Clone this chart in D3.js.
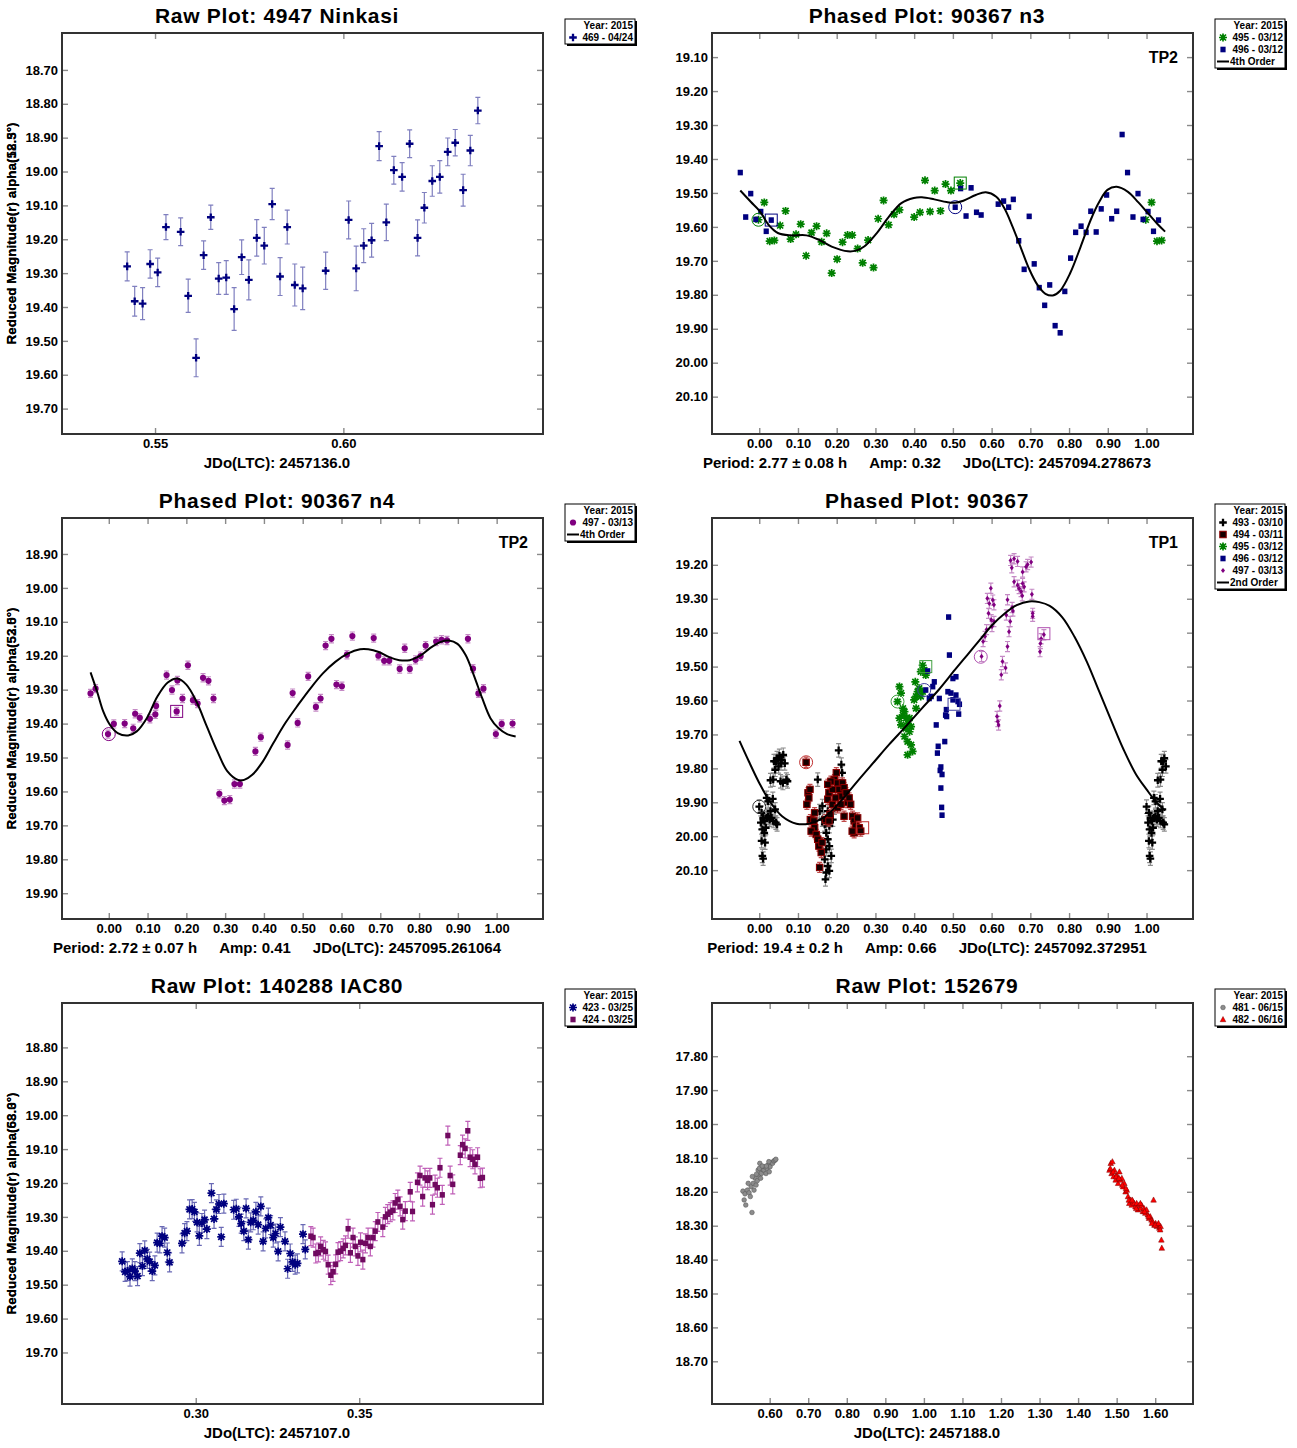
<!DOCTYPE html>
<html>
<head>
<meta charset="utf-8">
<script src="https://cdn.jsdelivr.net/npm/d3@7"></script>
<style>
  body { margin: 0; background: #fff; }
  svg text { font-family: "Liberation Sans", Arial, sans-serif; font-weight: bold; }
</style>
</head>
<body>
<svg id="chart" width="1297" height="1448"></svg>
<script>
// ---------------------------------------------------------------
// Lightcurve data: [time or phase, reduced magnitude, (error)]
// ---------------------------------------------------------------

// 4947 Ninkasi, session 469 (2015-04-24), JD - 2457136.0
const ninkasi469 = [
  [0.5426,19.280,0.043],[0.5446,19.383,0.044],[0.5467,19.390,0.047],[0.5487,19.273,0.042],
  [0.5507,19.298,0.042],[0.5529,19.164,0.037],[0.5568,19.178,0.041],[0.5588,19.367,0.049],
  [0.5609,19.550,0.056],[0.5629,19.247,0.042],[0.5648,19.135,0.036],[0.5669,19.316,0.047],
  [0.5689,19.313,0.050],[0.5710,19.406,0.063],[0.5730,19.253,0.051],[0.5749,19.320,0.059],
  [0.5770,19.196,0.054],[0.5790,19.219,0.054],[0.5811,19.096,0.046],[0.5832,19.310,0.056],
  [0.5851,19.164,0.050],[0.5871,19.335,0.062],[0.5892,19.345,0.063],[0.5953,19.293,0.055],
  [0.6014,19.143,0.056],[0.6034,19.286,0.066],[0.6054,19.219,0.050],[0.6075,19.203,0.050],
  [0.6095,18.925,0.043],[0.6114,19.150,0.054],[0.6134,18.996,0.041],[0.6156,19.016,0.042],
  [0.6176,18.918,0.041],[0.6197,19.196,0.053],[0.6215,19.107,0.045],[0.6236,19.028,0.045],
  [0.6256,19.016,0.048],[0.6277,18.942,0.041],[0.6297,18.915,0.039],[0.6318,19.055,0.047],
  [0.6337,18.938,0.045],[0.6357,18.820,0.039]
];
const ninkasiYTicks = [18.70,18.80,18.90,19.00,19.10,19.20,19.30,19.40,19.50,19.60,19.70];
const ninkasiXTicks = [0.55,0.60];

// 90367 n3: sessions 495 and 496 (2015-03-12), phase vs magnitude
const n3s495 = [
  [0.998,19.579],[0.013,19.528],[0.027,19.642],[0.039,19.640],[0.054,19.596],[0.068,19.553],
  [0.081,19.636],[0.095,19.622],[0.107,19.592],[0.121,19.685],[0.135,19.617],[0.148,19.598],
  [0.161,19.644],[0.174,19.619],[0.187,19.736],[0.201,19.695],[0.215,19.645],[0.228,19.624],
  [0.240,19.624],[0.254,19.664],[0.267,19.706],[0.281,19.639],[0.295,19.720],[0.307,19.576],
  [0.321,19.522],[0.334,19.594],[0.348,19.563],[0.362,19.550],[0.400,19.571],[0.415,19.557],
  [0.428,19.463],[0.441,19.555],[0.453,19.493],[0.468,19.553],[0.481,19.474],[0.495,19.493],
  [0.519,19.471]
];
const n3s496 = [
  [0.951,19.440],[0.965,19.571],[0.978,19.502],[0.991,19.578],[0.004,19.555],[0.018,19.613],
  [0.031,19.580],[0.506,19.542],[0.520,19.487],[0.534,19.568],[0.547,19.485],[0.561,19.557],
  [0.573,19.565],[0.617,19.533],[0.631,19.524],[0.644,19.542],[0.656,19.519],[0.670,19.641],
  [0.684,19.725],[0.697,19.569],[0.710,19.709],[0.723,19.779],[0.737,19.831],[0.750,19.771],
  [0.764,19.891],[0.777,19.912],[0.789,19.790],[0.804,19.692],[0.817,19.616],[0.831,19.598],
  [0.844,19.616],[0.856,19.554],[0.870,19.615],[0.883,19.547],[0.897,19.506],[0.910,19.576],
  [0.923,19.554],[0.937,19.328]
];
const n3Fit = [
  [-0.049,19.493],[-0.022,19.526],[0.000,19.552],[0.027,19.598],[0.048,19.618],[0.080,19.625],
  [0.122,19.625],[0.154,19.638],[0.187,19.658],[0.229,19.672],[0.250,19.670],[0.271,19.658],
  [0.303,19.619],[0.335,19.570],[0.367,19.530],[0.399,19.515],[0.420,19.513],[0.452,19.519],
  [0.484,19.527],[0.505,19.529],[0.527,19.523],[0.559,19.506],[0.585,19.498],[0.612,19.511],
  [0.633,19.545],[0.654,19.599],[0.676,19.663],[0.697,19.724],[0.718,19.770],[0.739,19.797],
  [0.758,19.802],[0.777,19.788],[0.803,19.736],[0.830,19.658],[0.856,19.579],[0.878,19.526],
  [0.899,19.491],[0.923,19.482],[0.952,19.497],[0.979,19.528],[1.000,19.555],[1.027,19.590],
  [1.048,19.614]
];
// first (circle) and last (square) observations of each session
const n3Firsts = [[-0.002,19.579,"#008000"],[0.506,19.542,"#00007f"]];
const n3Lasts  = [[0.519,19.471,"#008000"],[0.031,19.580,"#00007f"]];
const n3YTicks = [19.10,19.20,19.30,19.40,19.50,19.60,19.70,19.80,19.90,20.00,20.10];

// 90367 n4: session 497 (2015-03-13)
const n4s497 = [
  [0.998,19.431],[0.013,19.401],[0.041,19.400],[0.063,19.414],[0.068,19.371],[0.080,19.383],
  [0.106,19.386],[0.120,19.373],[0.122,19.348],[0.149,19.257],[0.163,19.301],[0.175,19.364],
  [0.177,19.273],[0.190,19.326],[0.204,19.228],[0.217,19.331],[0.229,19.341],[0.243,19.265],
  [0.257,19.274],[0.270,19.326],[0.285,19.607],[0.298,19.627],[0.312,19.624],[0.324,19.578],
  [0.338,19.578],[0.378,19.482],[0.392,19.440],[0.461,19.463],[0.474,19.310],[0.487,19.398],
  [0.514,19.261],[0.534,19.351],[0.546,19.326],[0.559,19.170],[0.574,19.150],[0.587,19.285],
  [0.601,19.290],[0.614,19.197],[0.628,19.142],[0.683,19.148],[0.695,19.200],[0.710,19.215],
  [0.723,19.215],[0.750,19.239],[0.763,19.178],[0.776,19.239],[0.791,19.212],[0.804,19.201],
  [0.817,19.170],[0.844,19.158],[0.858,19.153],[0.872,19.155],[0.926,19.150],[0.939,19.238],
  [0.953,19.311],[0.966,19.297]
];
const n4Fit = [
  [-0.047,19.249],[-0.030,19.306],[-0.014,19.365],[0.002,19.402],[0.023,19.428],[0.050,19.435],
  [0.072,19.423],[0.098,19.384],[0.125,19.321],[0.152,19.279],[0.176,19.267],[0.200,19.285],
  [0.226,19.335],[0.253,19.409],[0.280,19.482],[0.306,19.541],[0.333,19.566],[0.349,19.566],
  [0.370,19.551],[0.397,19.512],[0.424,19.458],[0.456,19.397],[0.488,19.345],[0.520,19.296],
  [0.552,19.252],[0.584,19.218],[0.616,19.194],[0.648,19.181],[0.669,19.181],[0.696,19.189],
  [0.723,19.204],[0.749,19.213],[0.776,19.213],[0.803,19.200],[0.829,19.177],[0.856,19.159],
  [0.877,19.155],[0.899,19.165],[0.920,19.198],[0.941,19.257],[0.963,19.326],[0.984,19.384],
  [1.005,19.414],[1.027,19.431],[1.049,19.438]
];
const n4Firsts = [[0.000,19.431,"#800080"]];
const n4Lasts  = [[0.175,19.364,"#800080"]];
const n4YTicks = [18.90,19.00,19.10,19.20,19.30,19.40,19.50,19.60,19.70,19.80,19.90];

// 90367 combined, sessions 493-497
const tp493 = [
  [0.000,19.913],[0.006,19.931],[0.010,19.946],[0.004,19.960],[0.014,19.955],[0.019,19.946],
  [0.023,19.941],[0.027,19.951],[0.032,19.946],[0.036,19.955],[0.043,19.960],[0.046,19.965],
  [0.008,19.980],[0.013,19.990],[0.006,20.014],[0.015,20.019],[0.008,20.058],[0.010,20.066],
  [0.017,19.975],[0.023,19.897],[0.035,19.890],[0.019,19.887],[0.041,19.921],[0.029,19.926],
  [0.036,19.833],[0.041,19.804],[0.043,19.779],[0.046,19.770],[0.052,19.763],[0.058,19.775],
  [0.062,19.760],[0.066,19.785],[0.070,19.833],[0.073,19.838],[0.061,19.843],[0.055,19.838],
  [0.029,19.835],[0.050,19.794],[0.038,19.779],[0.056,19.785],
  [0.151,19.833],[0.205,19.747],[0.212,19.789],[0.214,19.813],[0.156,19.926],[0.163,19.951],
  [0.169,19.965],[0.173,19.990],[0.177,20.009],[0.181,20.029],[0.173,20.039],[0.169,20.068],
  [0.177,20.088],[0.173,20.107],[0.171,20.127],[0.181,20.102],[0.186,20.058],[0.163,19.911],
  [0.177,19.926],[0.194,19.916],[0.190,19.951],[0.181,19.970],[0.156,20.009]
];
const tp494 = [
  [0.121,19.782],[0.126,19.872],[0.128,19.887],[0.123,19.906],[0.131,19.862],[0.132,19.951],
  [0.141,19.955],[0.143,19.975],[0.134,19.985],[0.147,19.995],[0.151,20.009],[0.154,20.029],
  [0.160,20.048],[0.156,20.092],[0.162,20.019],[0.143,19.931],[0.171,19.951],[0.180,19.955],
  [0.183,19.936],[0.177,19.891],[0.180,19.872],[0.189,19.862],[0.194,19.833],[0.199,19.813],
  [0.202,19.843],[0.206,19.862],[0.211,19.882],[0.215,19.843],[0.219,19.857],[0.224,19.872],
  [0.228,19.901],[0.232,19.887],[0.236,19.906],[0.241,19.941],[0.245,19.955],[0.249,19.970],
  [0.245,19.990],[0.254,19.946],[0.258,19.975],[0.262,19.985],[0.240,19.985],[0.219,19.941],
  [0.189,19.906],[0.197,19.887],[0.202,19.916],[0.211,19.906],[0.185,19.838],[0.177,19.847]
];
const tp495 = [
  [0.357,19.603],[0.362,19.559],[0.366,19.578],[0.371,19.623],[0.375,19.633],[0.362,19.652],
  [0.366,19.672],[0.371,19.643],[0.379,19.652],[0.383,19.667],[0.388,19.652],[0.392,19.677],
  [0.379,19.682],[0.375,19.706],[0.383,19.721],[0.392,19.731],[0.396,19.750],[0.383,19.760],
  [0.388,19.692],[0.400,19.598],[0.405,19.588],[0.409,19.574],[0.413,19.564],[0.403,19.545],
  [0.405,19.623],[0.417,19.515],[0.422,19.496],[0.426,19.510],[0.430,19.525],[0.417,19.588],
  [0.422,19.574]
];
const tp496 = [
  [0.489,19.354],[0.491,19.466],[0.435,19.513],[0.452,19.545],[0.448,19.559],[0.430,19.569],
  [0.444,19.588],[0.439,19.594],[0.465,19.594],[0.487,19.574],[0.495,19.578],[0.500,19.598],
  [0.508,19.584],[0.513,19.603],[0.517,19.611],[0.508,19.530],[0.500,19.535],[0.483,19.627],
  [0.484,19.647],[0.481,19.643],[0.515,19.640],[0.457,19.672],[0.479,19.721],[0.462,19.735],
  [0.460,19.755],[0.469,19.796],[0.472,19.818],[0.467,19.806],[0.469,19.858],[0.471,19.915],
  [0.472,19.938]
];
const tp497 = [
  [0.649,19.187],[0.658,19.182],[0.667,19.190],[0.652,19.209],[0.680,19.221],[0.689,19.206],
  [0.693,19.199],[0.702,19.192],[0.658,19.250],[0.667,19.260],[0.671,19.270],[0.680,19.255],
  [0.684,19.265],[0.676,19.279],[0.679,19.291],[0.704,19.287],[0.598,19.269],[0.589,19.299],
  [0.594,19.314],[0.603,19.304],[0.606,19.318],[0.641,19.303],[0.653,19.326],[0.655,19.336],
  [0.592,19.343],[0.599,19.362],[0.606,19.367],[0.601,19.382],[0.587,19.391],[0.638,19.348],
  [0.648,19.367],[0.645,19.397],[0.706,19.343],[0.706,19.352],[0.583,19.411],[0.578,19.426],
  [0.574,19.470],[0.641,19.441],[0.628,19.485],[0.636,19.504],[0.625,19.524],[0.735,19.406],
  [0.728,19.418],[0.726,19.432],[0.725,19.456],[0.621,19.616],[0.614,19.647],[0.616,19.662],
  [0.618,19.672]
];
const tpFit = [
  [-0.051,19.719],[-0.027,19.779],[0.000,19.843],[0.027,19.897],[0.059,19.941],[0.096,19.963],
  [0.128,19.963],[0.165,19.946],[0.197,19.914],[0.229,19.872],[0.261,19.828],[0.298,19.779],
  [0.335,19.730],[0.378,19.677],[0.420,19.623],[0.463,19.569],[0.505,19.510],[0.537,19.466],
  [0.569,19.422],[0.601,19.378],[0.633,19.344],[0.665,19.319],[0.697,19.308],[0.723,19.310],
  [0.750,19.321],[0.782,19.354],[0.814,19.412],[0.846,19.486],[0.878,19.574],[0.910,19.662],
  [0.941,19.745],[0.973,19.818],[1.000,19.862],[1.027,19.902],[1.048,19.924]
];
const tpFirsts = [[0.000,19.913,"#303030"],[0.121,19.782,"#c03030"],[0.357,19.603,"#40a040"],
                  [0.426,19.569,"#4040a0"],[0.572,19.471,"#b050b0"]];
const tpLasts  = [[0.267,19.975,"#c03030"],[0.430,19.500,"#40a040"],[0.503,19.611,"#4040a0"],
                  [0.735,19.403,"#b050b0"]];
const tpYTicks = [19.20,19.30,19.40,19.50,19.60,19.70,19.80,19.90,20.00,20.10];

const phaseTicks = [0.00,0.10,0.20,0.30,0.40,0.50,0.60,0.70,0.80,0.90,1.00];

// 140288 IAC80, sessions 423 and 424 (2015-03-25), JD - 2457107.0
const iac423 = [
  [0.2775,19.431],[0.2784,19.462],[0.2791,19.460],[0.2799,19.476],[0.2806,19.452],[0.2814,19.460],
  [0.2822,19.475],[0.2829,19.407],[0.2837,19.445],[0.2844,19.399],[0.2852,19.424],[0.2859,19.432],
  [0.2867,19.460],[0.2875,19.443],[0.2882,19.376],[0.2890,19.378],[0.2897,19.357],[0.2905,19.361],
  [0.2913,19.405],[0.2920,19.434],[0.2958,19.378],[0.2966,19.348],[0.2973,19.342],[0.2981,19.278],
  [0.2989,19.277],[0.2996,19.285],[0.3004,19.316],[0.3011,19.356],[0.3019,19.318],[0.3027,19.308],
  [0.3034,19.336],[0.3048,19.230],[0.3056,19.306],[0.3063,19.278],[0.3071,19.262],[0.3078,19.359],
  [0.3086,19.261],[0.3116,19.279],[0.3124,19.276],[0.3132,19.300],[0.3139,19.320],[0.3147,19.342],
  [0.3154,19.275],[0.3161,19.367],[0.3168,19.316],[0.3176,19.310],[0.3184,19.285],[0.3191,19.323],
  [0.3199,19.269],[0.3206,19.372],[0.3214,19.334],[0.3222,19.302],[0.3229,19.324],[0.3237,19.361],
  [0.3244,19.349],[0.3252,19.402],[0.3259,19.330],[0.3273,19.372],[0.3281,19.453],[0.3289,19.408],
  [0.3296,19.433],[0.3304,19.441],[0.3311,19.437],[0.3328,19.351],[0.3335,19.396]
];
const iac424 = [
  [0.3352,19.357],[0.3359,19.361],[0.3367,19.408],[0.3375,19.405],[0.3382,19.387],[0.3390,19.397],
  [0.3397,19.402],[0.3405,19.441],[0.3413,19.472],[0.3420,19.462],[0.3428,19.440],[0.3435,19.404],
  [0.3443,19.401],[0.3451,19.393],[0.3458,19.384],[0.3466,19.335],[0.3473,19.406],[0.3481,19.361],
  [0.3488,19.387],[0.3496,19.415],[0.3504,19.375],[0.3511,19.426],[0.3519,19.378],[0.3527,19.361],
  [0.3534,19.387],[0.3542,19.361],[0.3549,19.342],[0.3557,19.315],[0.3572,19.330],[0.3580,19.300],
  [0.3587,19.292],[0.3595,19.286],[0.3603,19.281],[0.3610,19.259],[0.3618,19.249],[0.3625,19.269],
  [0.3633,19.308],[0.3641,19.283],[0.3656,19.226],[0.3663,19.284],[0.3678,19.198],[0.3686,19.178],
  [0.3694,19.240],[0.3701,19.185],[0.3709,19.192],[0.3716,19.185],[0.3724,19.264],[0.3732,19.205],
  [0.3739,19.214],[0.3747,19.155],[0.3754,19.235],[0.3771,19.060],[0.3778,19.178],[0.3786,19.204],
  [0.3809,19.118],[0.3816,19.087],[0.3824,19.098],[0.3832,19.046],[0.3839,19.124],[0.3847,19.130],
  [0.3854,19.145],[0.3862,19.124],[0.3870,19.186],[0.3877,19.184]
];
const iacErr = 0.028;
const iacYTicks = [18.80,18.90,19.00,19.10,19.20,19.30,19.40,19.50,19.60,19.70];
const iacXTicks = [0.30,0.35];

// 152679, sessions 481 (2015-06-15) and 482 (2015-06-16), JD - 2457188.0
const s481 = [
  [0.5306,18.198],[0.5338,18.224],[0.5380,18.239],[0.5359,18.206],[0.5423,18.195],[0.5466,18.203],
  [0.5498,18.214],[0.5541,18.261],[0.5519,18.185],[0.5573,18.175],[0.5594,18.195],[0.5626,18.160],
  [0.5647,18.180],[0.5679,18.167],[0.5701,18.136],[0.5722,18.151],[0.5744,18.116],[0.5765,18.160],
  [0.5786,18.146],[0.5818,18.134],[0.5850,18.136],[0.5872,18.126],[0.5904,18.146],[0.5936,18.131],
  [0.5957,18.121],[0.5989,18.141],[0.6011,18.126],[0.6043,18.114],[0.6075,18.116],[0.6107,18.109],
  [0.6139,18.107],[0.6160,18.104],[0.5444,18.175],[0.5551,18.155],[0.5658,18.148],[0.5733,18.131],
  [0.5808,18.124],[0.5915,18.124],[0.5979,18.111]
];
const s482 = [
  [1.4814,18.136],[1.4846,18.116],[1.4868,18.146],[1.4889,18.111],[1.4921,18.155],[1.4942,18.136],
  [1.4974,18.165],[1.5006,18.151],[1.5038,18.175],[1.5071,18.141],[1.5103,18.165],[1.5135,18.160],
  [1.5167,18.185],[1.5199,18.175],[1.5231,18.200],[1.5263,18.195],[1.5295,18.214],[1.5327,18.234],
  [1.5359,18.224],[1.5391,18.239],[1.5423,18.229],[1.5455,18.234],[1.5487,18.244],[1.5519,18.234],
  [1.5551,18.253],[1.5583,18.239],[1.5615,18.249],[1.5647,18.239],[1.5679,18.258],[1.5712,18.249],
  [1.5744,18.263],[1.5776,18.253],[1.5808,18.268],[1.5840,18.278],[1.5872,18.273],[1.5904,18.283],
  [1.5936,18.288],[1.5957,18.224],[1.5979,18.298],[1.6011,18.293],[1.6043,18.302],[1.6075,18.297],
  [1.6107,18.307],[1.6139,18.302],[1.6160,18.342],[1.6171,18.366],[1.4835,18.131],[1.4910,18.141],
  [1.4985,18.155],[1.5060,18.160],[1.5146,18.180],[1.5242,18.190],[1.5316,18.224],[1.5402,18.224],
  [1.5508,18.249],[1.5615,18.234],[1.5722,18.258],[1.5829,18.273],[1.5915,18.293],[1.6000,18.298],
  [1.6085,18.293],[1.6128,18.312]
];
const s152679YTicks = [17.80,17.90,18.00,18.10,18.20,18.30,18.40,18.50,18.60,18.70];
const s152679XTicks = [0.60,0.70,0.80,0.90,1.00,1.10,1.20,1.30,1.40,1.50,1.60];

// ---------------------------------------------------------------
// Drawing
// ---------------------------------------------------------------
const svg = d3.select("#chart");
const FW = 481, FH = 401;
const PH_MIN = -0.05, PH_MAX = 1.05;
const fmt2 = d3.format(".2f");

// phased plots show each observation again one cycle away when it falls in the overlap band
function wrapPhases(rows) {
  const out = [];
  rows.forEach(r => {
    out.push(r);
    if (r[0] + 1 <= PH_MAX) out.push([r[0] + 1, ...r.slice(1)]);
    if (r[0] - 1 >= PH_MIN) out.push([r[0] - 1, ...r.slice(1)]);
  });
  return out;
}

function marker(g, kind, color, px, py) {
  switch (kind) {
    case "plus":
      g.append("path").attr("d", `M${px-3.8},${py}h7.6M${px},${py-3.8}v7.6`)
        .attr("stroke", color).attr("stroke-width", 2.3).attr("fill", "none");
      break;
    case "star":
      g.append("path").attr("d",
        `M${px-4},${py}h8M${px},${py-4}v8M${px-3},${py-3}l6,6M${px-3},${py+3}l6,-6`)
        .attr("stroke", color).attr("stroke-width", 1.7).attr("fill", "none");
      break;
    case "square":
      g.append("rect").attr("x", px-2.6).attr("y", py-2.8).attr("width", 5.2).attr("height", 5.6)
        .attr("fill", color);
      break;
    case "redsquare":
      g.append("rect").attr("x", px-3.2).attr("y", py-3.2).attr("width", 6.4).attr("height", 6.4)
        .attr("fill", "#140000").attr("stroke", "#8b0000").attr("stroke-width", 1.1);
      break;
    case "circle":
      g.append("circle").attr("cx", px).attr("cy", py).attr("r", 3.1).attr("fill", color);
      break;
    case "diamond":
      g.append("path").attr("d", `M${px},${py-2.6}L${px+2},${py}L${px},${py+2.6}L${px-2},${py}Z`)
        .attr("fill", color);
      break;
    case "dot":
      g.append("circle").attr("cx", px).attr("cy", py).attr("r", 2.3)
        .attr("fill", "#8c8c8c").attr("stroke", "#5a5a5a").attr("stroke-width", 0.6);
      break;
    case "triangle":
      g.append("path").attr("d", `M${px},${py-3}L${px+2.8},${py+2.2}L${px-2.8},${py+2.2}Z`)
        .attr("fill", color).attr("stroke", "#7a0000").attr("stroke-width", 0.5);
      break;
  }
}

function drawSeries(g, x, y, rows, s) {
  const pts = s.phased ? wrapPhases(rows) : rows;
  if (s.errColor) {
    const eg = g.append("g").attr("stroke", s.errColor).attr("stroke-width", 1.2).attr("fill", "none");
    pts.forEach(r => {
      const e = r.length > 2 ? r[2] : s.err;
      const px = x(r[0]), y1 = y(r[1] - e), y2 = y(r[1] + e);
      eg.append("path").attr("d", `M${px},${y1}V${y2}M${px-2.5},${y1}h5M${px-2.5},${y2}h5`);
    });
  }
  const mg = g.append("g");
  pts.forEach(r => marker(mg, s.kind, s.color, x(r[0]), y(r[1])));
}

function drawPanel(p) {
  const g = svg.append("g");
  const x = d3.scaleLinear().domain(p.xDomain).range([p.left, p.left + FW]);
  const y = d3.scaleLinear().domain(p.yDomain).range([p.top, p.top + FH]);
  const bottom = p.top + FH;

  // title
  g.append("text").attr("x", p.cx).attr("y", p.top - 10).attr("text-anchor", "middle")
    .attr("font-size", 21).attr("letter-spacing", 0.7).text(p.title);

  // axes: inward ticks on all four sides, labels left and bottom
  const styleAxis = a => {
    a.select(".domain").remove();
    a.attr("font-size", 13).attr("font-family", null).attr("color", "#000");
    a.selectAll(".tick line").attr("stroke", "#8a8a8a").attr("stroke-width", 1.4);
  };
  g.append("g").attr("transform", `translate(${p.left},0)`)
    .call(d3.axisLeft(y).tickValues(p.yTicks).tickFormat(fmt2).tickSize(-6).tickPadding(4)).call(styleAxis);
  g.append("g").attr("transform", `translate(${p.left + FW},0)`)
    .call(d3.axisRight(y).tickValues(p.yTicks).tickFormat("").tickSize(-6)).call(styleAxis);
  g.append("g").attr("transform", `translate(0,${bottom})`)
    .call(d3.axisBottom(x).tickValues(p.xTicks).tickFormat(fmt2).tickSize(-6).tickPadding(5)).call(styleAxis);
  g.append("g").attr("transform", `translate(0,${p.top})`)
    .call(d3.axisTop(x).tickValues(p.xTicks).tickFormat("").tickSize(-6)).call(styleAxis);

  // y label
  g.append("text").attr("transform", `translate(16,${p.top + FH / 2}) rotate(-90)`)
    .attr("text-anchor", "middle").attr("font-size", 13.5).text(p.yLabel);

  // x label (one piece, or period / amplitude / epoch pieces)
  const parts = p.xLabel;
  const gap = 22;
  const texts = parts.map(t => g.append("text").attr("y", bottom + 34).attr("font-size", 15).text(t));
  const widths = texts.map(t => t.node().getComputedTextLength());
  const total = d3.sum(widths) + gap * (parts.length - 1);
  let cur = p.cx - total / 2;
  texts.forEach((t, i) => { t.attr("x", cur); cur += widths[i] + gap; });

  // data
  const dg = g.append("g");
  p.series.forEach(s => drawSeries(dg, x, y, s.rows, s));

  // session start/end markers
  (p.firsts || []).forEach(f => dg.append("circle").attr("cx", x(f[0])).attr("cy", y(f[1]))
    .attr("r", 6.5).attr("fill", "none").attr("stroke", f[2]).attr("stroke-width", 1));
  (p.lasts || []).forEach(f => dg.append("rect").attr("x", x(f[0]) - 6).attr("y", y(f[1]) - 6)
    .attr("width", 12).attr("height", 12).attr("fill", "none").attr("stroke", f[2]).attr("stroke-width", 1));

  // Fourier fit
  if (p.fit) {
    dg.append("path").datum(p.fit)
      .attr("d", d3.line().x(d => x(d[0])).y(d => y(d[1])).curve(d3.curveCatmullRom))
      .attr("fill", "none").attr("stroke", "#000").attr("stroke-width", 2);
  }

  if (p.tag) {
    g.append("text").attr("x", p.left + FW - 15).attr("y", p.top + 30).attr("text-anchor", "end")
      .attr("font-size", 16).text(p.tag);
  }

  // frame
  g.append("rect").attr("x", p.left).attr("y", p.top).attr("width", FW).attr("height", FH)
    .attr("fill", "none").attr("stroke", "#333").attr("stroke-width", 2);

  // legend box with drop shadow
  const rows = 1 + p.legend.length;
  const lx = p.left + 503, ly = p.top - 14, lw = 70, lh = rows * 12 + 1;
  const lg = g.append("g");
  lg.append("rect").attr("x", lx + 2).attr("y", ly + 2).attr("width", lw).attr("height", lh).attr("fill", "#000");
  lg.append("rect").attr("x", lx).attr("y", ly).attr("width", lw).attr("height", lh)
    .attr("fill", "#fff").attr("stroke", "#000").attr("stroke-width", 1);
  lg.append("text").attr("x", lx + lw - 2).attr("y", ly + 10).attr("text-anchor", "end")
    .attr("font-size", 10).text("Year: 2015");
  p.legend.forEach((it, i) => {
    const by = ly + 22 + 12 * i;
    if (it.kind === "line") {
      lg.append("line").attr("x1", lx + 2).attr("x2", lx + 14).attr("y1", by - 3.5).attr("y2", by - 3.5)
        .attr("stroke", "#000").attr("stroke-width", 2);
      lg.append("text").attr("x", lx + 15).attr("y", by).attr("font-size", 10).text(it.label);
    } else {
      marker(lg, it.kind, it.color, lx + 8, by - 3.5);
      lg.append("text").attr("x", lx + lw - 2).attr("y", by).attr("text-anchor", "end")
        .attr("font-size", 10).text(it.label);
    }
  });
}

const NAVY = "#00007f", GREEN = "#008000", PURPLE = "#800080";

const panels = [
  {
    left: 62, top: 33, cx: 277, title: "Raw Plot: 4947 Ninkasi",
    xDomain: [0.5253, 0.6530], yDomain: [18.591, 19.775],
    xTicks: ninkasiXTicks, yTicks: ninkasiYTicks,
    yLabel: "Reduced Magnitude(r) alpha(18.3°)", xLabel: ["JDo(LTC): 2457136.0"],
    series: [{ rows: ninkasi469, kind: "plus", color: NAVY, errColor: "#7f7fbf" }],
    legend: [{ label: "469 - 04/24", kind: "plus", color: NAVY }]
  },
  {
    left: 712, top: 33, cx: 927, title: "Phased Plot: 90367 n3",
    xDomain: [-0.122, 1.120], yDomain: [19.029, 20.210],
    xTicks: phaseTicks, yTicks: n3YTicks,
    yLabel: "Reduced Magnitude(r) alpha(52.5°)",
    xLabel: ["Period: 2.77 ± 0.08 h", "Amp: 0.32", "JDo(LTC): 2457094.278673"],
    series: [
      { rows: n3s495, kind: "star", color: GREEN, phased: true },
      { rows: n3s496, kind: "square", color: NAVY, phased: true }
    ],
    firsts: n3Firsts, lasts: n3Lasts, fit: n3Fit, tag: "TP2",
    legend: [{ label: "495 - 03/12", kind: "star", color: GREEN },
             { label: "496 - 03/12", kind: "square", color: NAVY },
             { label: "4th Order", kind: "line" }]
  },
  {
    left: 62, top: 518, cx: 277, title: "Phased Plot: 90367 n4",
    xDomain: [-0.1206, 1.1195], yDomain: [18.794, 19.976],
    xTicks: phaseTicks, yTicks: n4YTicks,
    yLabel: "Reduced Magnitude(r) alpha(52.0°)",
    xLabel: ["Period: 2.72 ± 0.07 h", "Amp: 0.41", "JDo(LTC): 2457095.261064"],
    series: [{ rows: n4s497, kind: "circle", color: PURPLE, phased: true, errColor: "#c58ac5", err: 0.012 }],
    firsts: n4Firsts, lasts: n4Lasts, fit: n4Fit, tag: "TP2",
    legend: [{ label: "497 - 03/13", kind: "circle", color: PURPLE },
             { label: "4th Order", kind: "line" }]
  },
  {
    left: 712, top: 518, cx: 927, title: "Phased Plot: 90367",
    xDomain: [-0.122, 1.120], yDomain: [19.062, 20.244],
    xTicks: phaseTicks, yTicks: tpYTicks,
    yLabel: "Reduced Magnitude(r) alpha(53.5°)",
    xLabel: ["Period: 19.4 ± 0.2 h", "Amp: 0.66", "JDo(LTC): 2457092.372951"],
    series: [
      { rows: tp493, kind: "plus", color: "#000", phased: true, errColor: "#8c8c8c", err: 0.02 },
      { rows: tp494, kind: "redsquare", color: "#8b0000", phased: true, errColor: "#c04a4a", err: 0.015 },
      { rows: tp495, kind: "star", color: GREEN, phased: true },
      { rows: tp496, kind: "square", color: NAVY, phased: true },
      { rows: tp497, kind: "diamond", color: PURPLE, phased: true, errColor: "#c58ac5", err: 0.015 }
    ],
    firsts: tpFirsts, lasts: tpLasts, fit: tpFit, tag: "TP1",
    legend: [{ label: "493 - 03/10", kind: "plus", color: "#000" },
             { label: "494 - 03/11", kind: "redsquare", color: "#8b0000" },
             { label: "495 - 03/12", kind: "star", color: GREEN },
             { label: "496 - 03/12", kind: "square", color: NAVY },
             { label: "497 - 03/13", kind: "diamond", color: PURPLE },
             { label: "2nd Order", kind: "line" }]
  },
  {
    left: 62, top: 1003, cx: 277, title: "Raw Plot: 140288 IAC80",
    xDomain: [0.2591, 0.4062], yDomain: [18.669, 19.852],
    xTicks: iacXTicks, yTicks: iacYTicks,
    yLabel: "Reduced Magnitude(r) alpha(68.3°)", xLabel: ["JDo(LTC): 2457107.0"],
    series: [
      { rows: iac423, kind: "star", color: NAVY, errColor: "#6a6ab5", err: iacErr },
      { rows: iac424, kind: "square", color: "#700a60", errColor: "#c060b8", err: iacErr }
    ],
    legend: [{ label: "423 - 03/25", kind: "star", color: NAVY },
             { label: "424 - 03/25", kind: "square", color: "#700a60" }]
  },
  {
    left: 712, top: 1003, cx: 927, title: "Raw Plot: 152679",
    xDomain: [0.4504, 1.698], yDomain: [17.643, 18.826],
    xTicks: s152679XTicks, yTicks: s152679YTicks,
    yLabel: "Reduced Magnitude(r) alpha(53.0°)", xLabel: ["JDo(LTC): 2457188.0"],
    series: [
      { rows: s481, kind: "dot", color: "#8c8c8c" },
      { rows: s482, kind: "triangle", color: "#ff0000" }
    ],
    legend: [{ label: "481 - 06/15", kind: "dot", color: "#8c8c8c" },
             { label: "482 - 06/16", kind: "triangle", color: "#ff0000" }]
  }
];

panels.forEach(drawPanel);
</script>
</body>
</html>
